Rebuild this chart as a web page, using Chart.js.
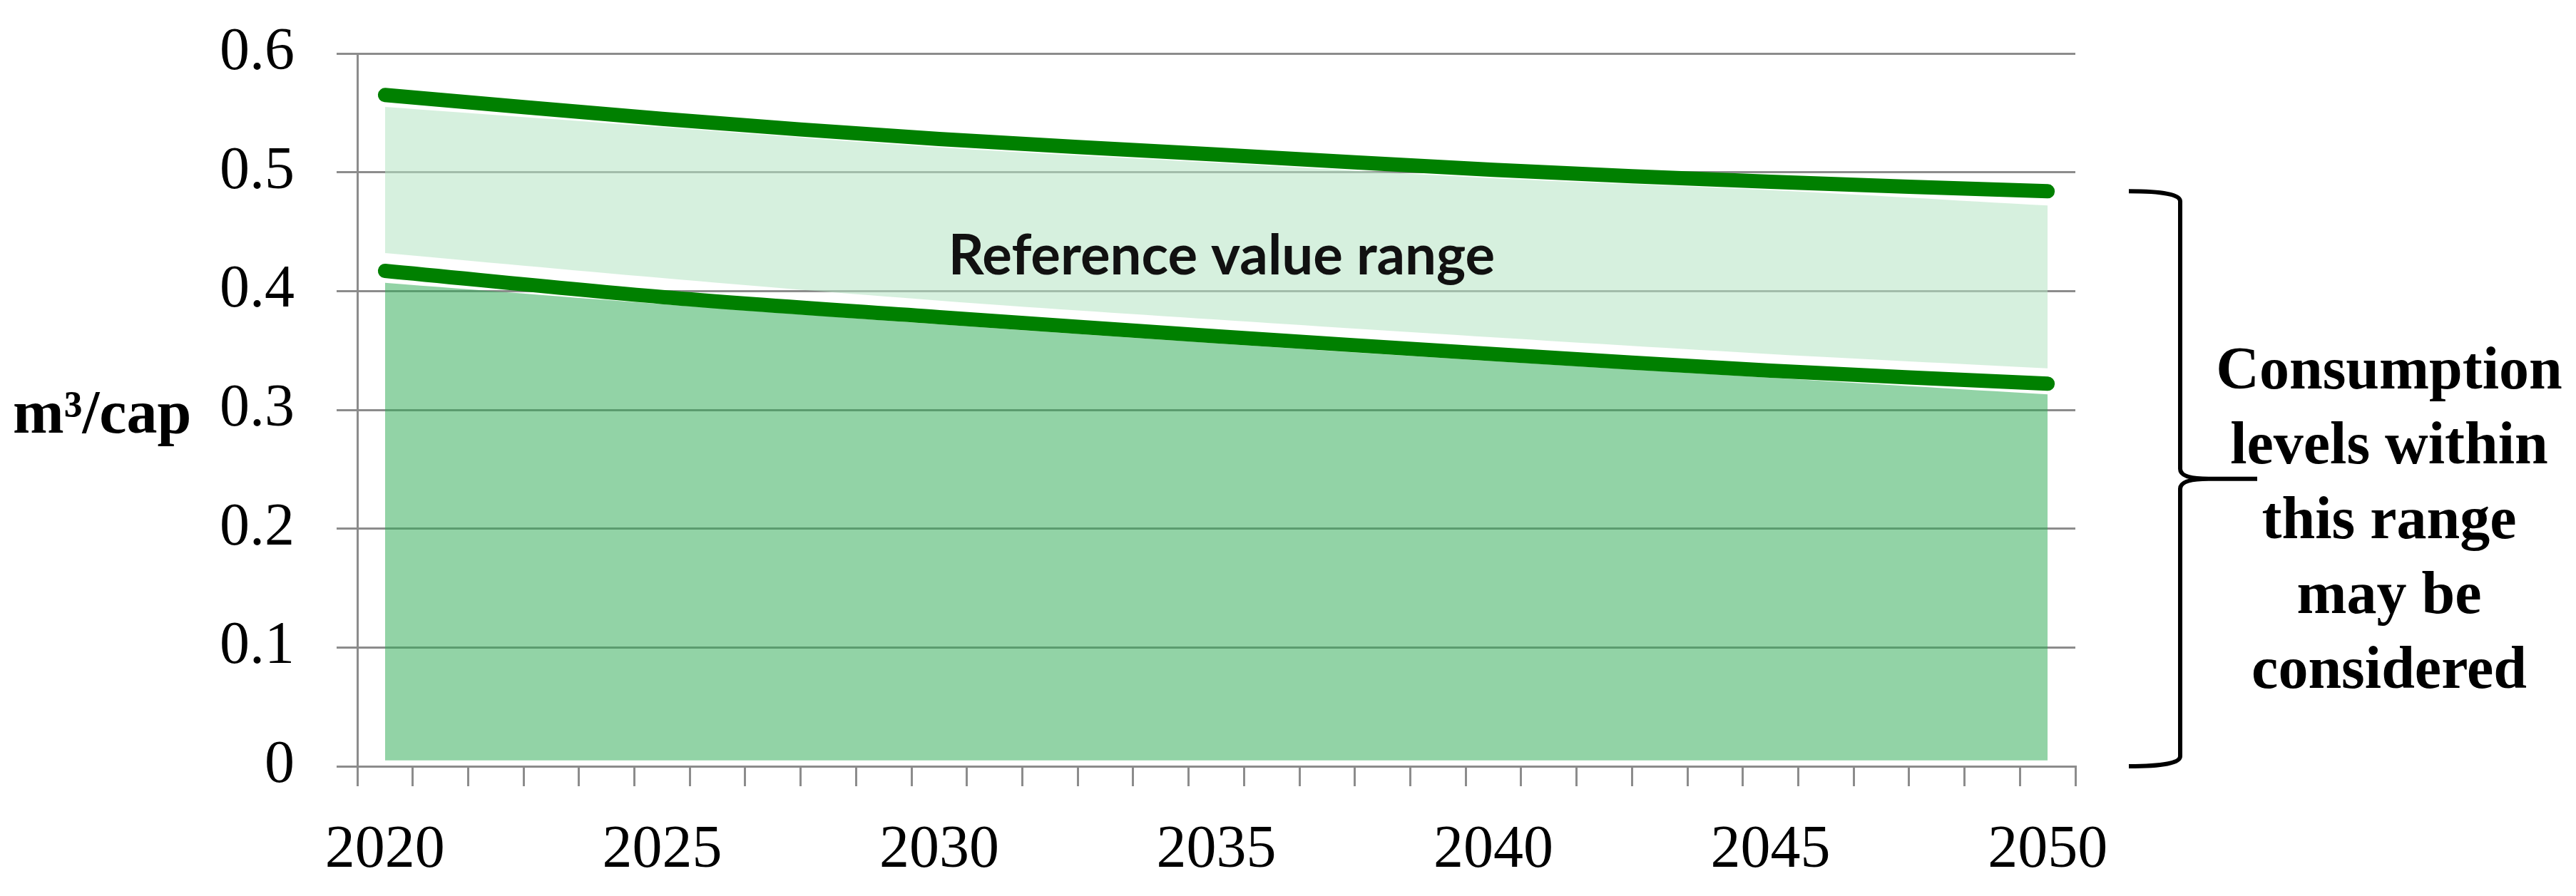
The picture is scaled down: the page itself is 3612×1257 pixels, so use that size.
<!DOCTYPE html>
<html>
<head>
<meta charset="utf-8">
<script src="https://cdn.jsdelivr.net/npm/chart.js@4/dist/chart.umd.min.js"></script>
<style>
  html, body { margin: 0; padding: 0; background: #ffffff; }
  #wrap { width: 3612px; height: 1257px; position: relative; }
  canvas { display: block; }
</style>
</head>
<body>
<div id="wrap"><canvas id="c" width="3612" height="1257"></canvas></div>
<script>
// ---- data ----
const categories = ['2020','2021','2022','2023','2024','2025','2026','2027','2028','2029',
                    '2030','2031','2032','2033','2034','2035','2036','2037','2038','2039',
                    '2040','2041','2042','2043','2044','2045','2046','2047','2048','2049','2050'];
const keyYears    = ['2020','2025','2030','2035','2040','2045','2050'];
const upperLine   = [0.565, 0.545, 0.528, 0.515, 0.502, 0.492, 0.484];
const lowerLine   = [0.417, 0.395, 0.378, 0.362, 0.347, 0.333, 0.322];
const lightTop    = [0.555, 0.538, 0.521, 0.508, 0.495, 0.485, 0.472];
const lightBottom = [0.432, 0.411, 0.392, 0.376, 0.361, 0.347, 0.335];
const darkTop     = [0.407, 0.389, 0.372, 0.356, 0.341, 0.327, 0.313];
const darkBase    = 0.005;
const xLabelYears = ['2020','2025','2030','2035','2040','2045','2050'];
const yMin = 0, yMax = 0.6, yStep = 0.1;
const areaLabel = 'Reference value range';
const yTitle = 'm\u00B3/cap';
const sideNote = ['Consumption', 'levels within', 'this range', 'may be', 'considered'];

function pts(vals) { return keyYears.map((k, i) => ({ x: k, y: vals[i] })); }

const GRID = '#8c8c8c';

const annotations = {
  id: 'annotations',
  afterDraw(chart) {
    const ctx = chart.ctx;
    const ys = chart.scales.y;
    ctx.save();
    // area label
    ctx.fillStyle = '#111111';
    ctx.font = 'bold 78px Lato';
    ctx.textAlign = 'center';
    ctx.textBaseline = 'alphabetic';
    ctx.fillText(areaLabel, 1713, 385, 840);
    // y title
    ctx.fillStyle = '#000000';
    ctx.font = 'bold 86px "Liberation Serif"';
    ctx.textAlign = 'left';
    ctx.fillText(yTitle, 18, 607);
    // side note
    ctx.font = 'bold 84px "Liberation Serif"';
    ctx.textAlign = 'center';
    const base = [545, 650, 755, 860, 965];
    sideNote.forEach((t, i) => ctx.fillText(t, 3350, base[i]));
    // brace
    const top = ys.getPixelForValue(upperLine[upperLine.length - 1]);
    const bot = ys.getPixelForValue(0);
    const mid = (top + bot) / 2;
    const xa = 2985, xv = 3057, xt = 3165, r = 14;
    ctx.strokeStyle = '#000000';
    ctx.lineWidth = 6;
    ctx.lineJoin = 'round';
    ctx.beginPath();
    ctx.moveTo(xa, top);
    ctx.quadraticCurveTo(xv, top, xv, top + r);
    ctx.lineTo(xv, mid - r);
    ctx.quadraticCurveTo(xv, mid, xv + 40, mid);
    ctx.lineTo(xt, mid);
    ctx.moveTo(xv + 40, mid);
    ctx.quadraticCurveTo(xv, mid, xv, mid + r);
    ctx.lineTo(xv, bot - r);
    ctx.quadraticCurveTo(xv, bot, xa, bot);
    ctx.stroke();
    ctx.restore();
  }
};

new Chart(document.getElementById('c'), {
  type: 'line',
  data: {
    labels: categories,
    datasets: [
      { label: 'upper', data: pts(upperLine), borderColor: '#008000', borderWidth: 20,
        borderCapStyle: 'round', pointRadius: 0, tension: 0.35, fill: false, order: 0 },
      { label: 'lower', data: pts(lowerLine), borderColor: '#008000', borderWidth: 20,
        borderCapStyle: 'round', pointRadius: 0, tension: 0.35, fill: false, order: 0 },
      { label: 'lightTop', data: pts(lightTop), borderWidth: 0, borderColor: 'rgba(0,0,0,0)',
        backgroundColor: 'rgba(180,228,195,0.55)', pointRadius: 0, tension: 0.35,
        fill: '+1', order: 1 },
      { label: 'lightBottom', data: pts(lightBottom), borderWidth: 0, borderColor: 'rgba(0,0,0,0)',
        pointRadius: 0, tension: 0.35, fill: false, order: 1 },
      { label: 'dark', data: pts(darkTop), borderWidth: 0, borderColor: 'rgba(0,0,0,0)',
        backgroundColor: 'rgba(46,170,84,0.52)', pointRadius: 0, tension: 0.35,
        fill: { value: darkBase }, order: 2 }
    ]
  },
  options: {
    responsive: false,
    devicePixelRatio: 1,
    animation: false,
    layout: { padding: { left: 0, top: 75, right: 702, bottom: 12 } },
    plugins: { legend: { display: false }, tooltip: { enabled: false } },
    scales: {
      x: {
        type: 'category',
        offset: true,
        afterFit(scale) { scale.height = 170; scale.paddingLeft = 0; scale.paddingRight = 0; },
        grid: { offset: true, drawOnChartArea: false, drawTicks: true, tickLength: 28,
                color: GRID, lineWidth: 3 },
        border: { display: true, color: GRID, width: 3 },
        ticks: {
          autoSkip: false, maxRotation: 0, padding: 41, color: '#000',
          font: { family: '"Liberation Serif"', size: 84 },
          callback: function (v) {
            const l = this.getLabelForValue(v);
            return xLabelYears.includes(l) ? l : '';
          }
        }
      },
      y: {
        min: yMin, max: yMax,
        afterFit(scale) { scale.width = 501; scale.paddingTop = 0; scale.paddingBottom = 0; },
        grid: { color: GRID, lineWidth: 3, drawTicks: true, tickLength: 29 },
        border: { display: true, color: GRID, width: 3 },
        ticks: {
          stepSize: yStep, padding: 59, color: '#000',
          font: { family: '"Liberation Serif"', size: 84 },
          callback: (v) => String(+v.toFixed(1))
        }
      }
    }
  },
  plugins: [annotations]
});
</script>
</body>
</html>
